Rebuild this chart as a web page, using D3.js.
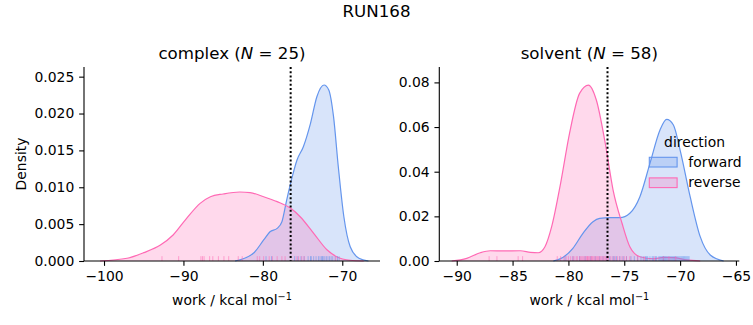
<!DOCTYPE html>
<html><head><meta charset="utf-8">
<script src="https://cdn.jsdelivr.net/npm/d3@7"></script>
<style>body{margin:0;background:#fff}text{font-family:"DejaVu Sans",sans-serif;fill:#000}</style>
</head><body><svg id="c" width="753" height="325"></svg>
<script>
// ---- data ----
const suptitle = "RUN168";
const directions = ["forward", "reverse"];
const colors = ["#6495ED", "#FF69B4"];
const freeEnergy = -76.5;

// complex panel
const complexN = 25;
const complexXTicks = [-100, -90, -80, -70];
const complexYTicks = [0, 0.005, 0.010, 0.015, 0.020, 0.025];
const complexForwardX = [-83.5,-81.2,-79.9,-79.1,-78.2,-77.6,-77.0,-76.3,-75.7,-74.9,-74.0,-73.2,-72.3,-71.7,-71.1,-70.5,-69.8,-69.0,-67.9,-66.7];
const complexForwardY = [0,0.00104,0.00285,0.00397,0.00443,0.00533,0.00827,0.01143,0.0137,0.0155,0.01867,0.02228,0.02387,0.0232,0.01957,0.01279,0.006,0.00194,0.00037,0];
const complexReverseX = [-100.5,-97.1,-95.0,-92.9,-91.3,-89.6,-87.9,-86.6,-85.0,-82.9,-81.6,-79.9,-78.2,-76.5,-75.3,-73.6,-71.9,-70.7,-69.0,-67.3];
const complexReverseY = [0,0.00037,0.00113,0.00217,0.00353,0.00579,0.00782,0.00872,0.00909,0.00936,0.00927,0.00872,0.00805,0.00714,0.006,0.00375,0.00149,0.00058,0.0001,0];
const complexForwardRug = [-79.6,-78.9,-76.0,-75.6,-75.2,-74.8,-74.3,-74.0,-73.9,-73.6,-73.3,-73.0,-72.8,-72.6,-72.5,-72.4,-72.2,-72.0,-71.8,-71.6,-71.4,-71.2,-70.9,-70.6,-70.4];
const complexReverseRug = [-92.7,-90.6,-87.8,-87.6,-87.4,-86.7,-86.3,-85.6,-84.9,-84.3,-83.1,-82.6,-80.7,-80.4,-79.9,-79.2,-78.8,-78.2,-77.6,-77.2,-75.8,-75.5,-75.1,-74.8,-70.8];

// solvent panel
const solventN = 58;
const solventXTicks = [-90, -85, -80, -75, -70, -65];
const solventYTicks = [0, 0.02, 0.04, 0.06, 0.08];
const solventForwardX = [-81.35,-80.5,-79.6,-78.7,-77.8,-77.2,-76.3,-75.4,-74.5,-73.6,-72.7,-71.8,-71.2,-70.6,-70.0,-69.1,-68.2,-67.3,-66.1];
const solventForwardY = [0,0.0016,0.0057,0.0124,0.0176,0.0191,0.0194,0.0194,0.0214,0.0288,0.0437,0.0587,0.0634,0.0609,0.0497,0.0288,0.0109,0.0027,0];
const solventReverseX = [-90.45,-89.1,-87.9,-87.0,-85.8,-84.3,-83.4,-82.7,-82.1,-81.5,-80.7,-79.9,-79.0,-78.2,-77.5,-76.7,-76.0,-75.2,-74.5,-73.6,-72.4,-71.5,-70.6,-69.4,-68.2];
const solventReverseY = [0,0.0012,0.0037,0.0046,0.0045,0.0046,0.0039,0.0037,0.0064,0.0154,0.0348,0.0572,0.0751,0.0788,0.0721,0.0527,0.0318,0.0169,0.0064,0.0019,0.0010,0.0016,0.0015,0.0005,0];
const solventForwardRug = [-80.3,-79.6,-79.0,-78.5,-78.0,-77.6,-77.2,-76.9,-76.6,-76.3,-76.0,-75.7,-75.4,-75.1,-74.8,-74.4,-74.1,-73.8,-73.5,-73.3,-73.1,-72.9,-72.7,-72.5,-72.4,-72.2,-72.1,-71.9,-71.8,-71.7,-71.6,-71.5,-71.4,-71.3,-71.2,-71.1,-71.0,-70.9,-70.8,-70.7,-70.6,-70.5,-70.4,-70.3,-70.2,-70.1,-70.0,-69.9,-69.8,-69.7,-69.6,-69.5,-69.4,-69.3,-69.2,-73.0,-71.5,-75.9];
const solventReverseRug = [-87.1,-86.4,-84.5,-84.1,-81.0,-80.7,-80.4,-80.2,-80.0,-79.8,-79.6,-79.5,-79.3,-79.2,-79.0,-78.9,-78.8,-78.7,-78.6,-78.5,-78.4,-78.3,-78.3,-78.2,-78.1,-78.0,-77.9,-77.9,-77.8,-77.7,-77.6,-77.5,-77.4,-77.3,-77.2,-77.1,-77.0,-76.9,-76.8,-76.7,-76.6,-76.5,-76.4,-76.2,-76.0,-75.8,-75.6,-75.4,-75.2,-75.0,-74.8,-74.5,-73.8,-73.2,-72.3,-71.5,-71.0,-70.4];

// ---- drawing ----
const svg = d3.select("#c");
svg.append("text").attr("x", 376.5).attr("y", 17).attr("text-anchor", "middle")
  .style("font-size", "16.67px").text(suptitle);

const panels = [
  {name: "complex", N: complexN, left: 84, right: 380, xdom: [-102.52, -65.25], ydom: [0, 0.02631],
   xticks: complexXTicks, yticks: complexYTicks, yfmt: d3.format(".3f"), ylabel: "Density",
   curves: [[complexForwardX, complexForwardY], [complexReverseX, complexReverseY]],
   rugs: [complexForwardRug, complexReverseRug], legend: false},
  {name: "solvent", N: solventN, left: 439.3, right: 739.3, xdom: [-91.56, -64.7], ydom: [0, 0.0869],
   xticks: solventXTicks, yticks: solventYTicks, yfmt: d3.format(".2f"), ylabel: null,
   curves: [[solventForwardX, solventForwardY], [solventReverseX, solventReverseY]],
   rugs: [solventForwardRug, solventReverseRug], legend: true}
];
const yTop = 67, yBottom = 261;
const minus = s => s.replace(/-/g, "\u2212");

panels.forEach(p => {
  const x = d3.scaleLinear().domain(p.xdom).range([p.left, p.right]);
  const y = d3.scaleLinear().domain(p.ydom).range([yBottom, yTop]);
  const g = svg.append("g");

  // densities
  const area = d3.area().x(d => x(d[0])).y0(y(0)).y1(d => y(d[1])).curve(d3.curveMonotoneX);
  const line = d3.line().x(d => x(d[0])).y(d => y(d[1])).curve(d3.curveMonotoneX);
  p.curves.forEach((c, i) => {
    const pts = c[0].map((v, k) => [v, c[1][k]]);
    g.append("path").attr("d", area(pts)).attr("fill", colors[i]).attr("fill-opacity", 0.25);
  });
  p.curves.forEach((c, i) => {
    const pts = c[0].map((v, k) => [v, c[1][k]]);
    g.append("path").attr("d", line(pts)).attr("fill", "none").attr("stroke", colors[i]).attr("stroke-width", 1.2);
  });

  // rugs
  p.rugs.forEach((r, i) => {
    g.selectAll(null).data(r).enter().append("line")
      .attr("x1", d => x(d)).attr("x2", d => x(d))
      .attr("y1", yBottom).attr("y2", yBottom - 4.85)
      .attr("stroke", colors[i]).attr("stroke-width", 1).attr("stroke-opacity", 0.55);
  });

  // vertical dotted line
  g.append("line").attr("x1", x(freeEnergy)).attr("x2", x(freeEnergy))
    .attr("y1", yTop).attr("y2", yBottom).attr("stroke", "#000")
    .attr("stroke-width", 2).attr("stroke-dasharray", "2,2.2");

  // axes
  const xa = g.append("g").attr("transform", `translate(0,${yBottom})`)
    .call(d3.axisBottom(x).tickValues(p.xticks).tickSize(4.86).tickPadding(4.86).tickFormat(d => minus(String(d))));
  const ya = g.append("g").attr("transform", `translate(${p.left},0)`)
    .call(d3.axisLeft(y).tickValues(p.yticks).tickSize(4.86).tickPadding(4.86).tickFormat(p.yfmt));
  [xa, ya].forEach(a => {
    a.selectAll("path").attr("stroke", "#000").attr("stroke-width", 1.1);
    a.selectAll("line").attr("stroke", "#000").attr("stroke-width", 1.1);
    a.selectAll("text").style("font-size", "13.9px").style("font-family", "DejaVu Sans").attr("fill", "#000");
  });
  xa.select(".domain").attr("d", `M${p.left},0H${p.right}`);
  ya.select(".domain").attr("d", `M0,${yBottom}V${yTop}`);

  // title
  const cx = (p.left + p.right) / 2;
  const t = svg.append("text").attr("x", cx).attr("y", 58.5).attr("text-anchor", "middle").style("font-size", "16.67px");
  t.append("tspan").text(p.name + " (");
  t.append("tspan").style("font-style", "italic").text("N");
  t.append("tspan").text(" = " + p.N + ")");

  // x label
  const xl = svg.append("text").attr("x", cx).attr("y", 305).attr("text-anchor", "middle").style("font-size", "13.9px");
  xl.append("tspan").text("work / kcal mol");
  xl.append("tspan").attr("dy", -5).style("font-size", "9.7px").text("\u22121");

  if (p.ylabel) {
    svg.append("text").attr("transform", `translate(26,${(yTop + yBottom) / 2}) rotate(-90)`)
      .attr("text-anchor", "middle").style("font-size", "13.9px").text(p.ylabel);
  }

  if (p.legend) {
    const lg = svg.append("g");
    lg.append("text").attr("x", 694.5).attr("y", 146.7).attr("text-anchor", "middle").style("font-size", "13.9px").text("direction");
    directions.forEach((d, i) => {
      const yy = 157.3 + i * 20.6;
      lg.append("rect").attr("x", 649.3).attr("y", yy).attr("width", 27.8).attr("height", 9.7)
        .attr("fill", colors[i]).attr("fill-opacity", 0.25).attr("stroke", colors[i]).attr("stroke-width", 1.1);
      lg.append("text").attr("x", 688.3).attr("y", yy + 9.3).style("font-size", "13.9px").text(d);
    });
  }
});
</script></body></html>
